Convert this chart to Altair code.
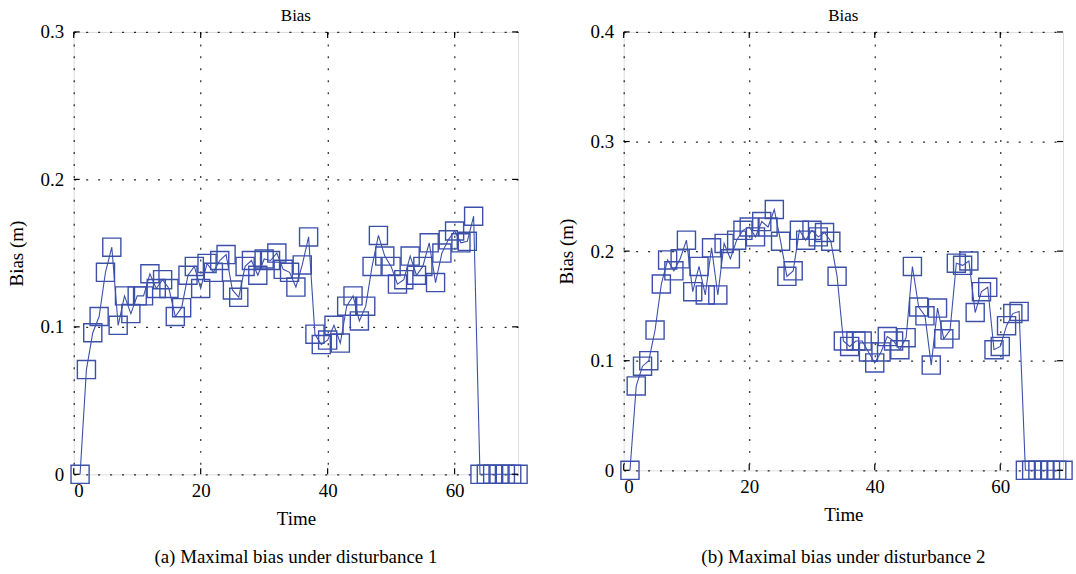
import altair as alt
import pandas as pd

# Time steps and maximal bias (m) for the two disturbance cases
time = list(range(1, 71))

bias_1 = [0.000, 0.071, 0.096, 0.107, 0.137, 0.154, 0.101, 0.121, 0.109, 0.121,
          0.121, 0.136, 0.126, 0.132, 0.126, 0.107, 0.113, 0.135, 0.141, 0.126,
          0.143, 0.137, 0.145, 0.149, 0.125, 0.120, 0.141, 0.145, 0.135, 0.146,
          0.145, 0.150, 0.139, 0.137, 0.127, 0.142, 0.161, 0.095, 0.088, 0.091,
          0.101, 0.089, 0.114, 0.121, 0.104, 0.114, 0.141, 0.162, 0.148, 0.141,
          0.129, 0.132, 0.148, 0.135, 0.141, 0.157, 0.130, 0.150, 0.159, 0.165,
          0.157, 0.158, 0.175, 0.000, 0.000, 0.000, 0.000, 0.000, 0.000, 0.000]

bias_2 = [0.000, 0.077, 0.095, 0.100, 0.128, 0.170, 0.192, 0.182, 0.193, 0.210,
          0.163, 0.186, 0.160, 0.203, 0.160, 0.207, 0.193, 0.210, 0.219, 0.222,
          0.213, 0.227, 0.222, 0.238, 0.209, 0.177, 0.182, 0.219, 0.210, 0.219,
          0.213, 0.217, 0.209, 0.177, 0.118, 0.113, 0.118, 0.118, 0.108, 0.098,
          0.108, 0.122, 0.118, 0.110, 0.121, 0.186, 0.149, 0.141, 0.096, 0.148,
          0.120, 0.128, 0.189, 0.187, 0.191, 0.144, 0.163, 0.167, 0.110, 0.113,
          0.132, 0.143, 0.145, 0.000, 0.000, 0.000, 0.000, 0.000, 0.000, 0.000]

x_ticks = [0, 20, 40, 60]
y_ticks_1 = [0, 0.1, 0.2, 0.3]
y_ticks_2 = [0, 0.1, 0.2, 0.3, 0.4]

caption_1 = "(a)  Maximal bias under disturbance 1"
caption_2 = "(b)  Maximal bias under disturbance 2"

BLUE = "#3c50aa"
FONT = "Liberation Serif"
TICK = 6


def panel(values, y_ticks, w, h, caption, caption_dy):
    df = pd.DataFrame({"time": time, "bias": values})
    xs = alt.Scale(domain=[0, 70], nice=False, zero=False)
    ys = alt.Scale(domain=[0, y_ticks[-1]], nice=False)

    common = dict(grid=True, gridColor="black", gridDash=[2, 10], gridWidth=1.2,
                  gridOpacity=0.85, tickSize=0, domain=False,
                  labelFont=FONT, labelFontSize=19, labelColor="black",
                  titleFont=FONT, titleFontSize=19, titleFontWeight="normal",
                  titleColor="black")
    x = alt.X("time:Q", scale=xs, axis=alt.Axis(
        values=x_ticks, title="Time", labelPadding=7, titlePadding=9,
        format="d", **common))
    y = alt.Y("bias:Q", scale=ys, axis=alt.Axis(
        values=y_ticks, title="Bias (m)", labelPadding=10, titlePadding=14,
        labelExpr="datum.value == 0 ? '0' : format(datum.value, '.1f')", **common))

    base = alt.Chart(df)
    line = base.mark_line(color=BLUE, strokeWidth=1.1).encode(x=x, y=y)
    pts = base.mark_point(shape="square", size=330, filled=False, color=BLUE,
                          strokeWidth=1.4, opacity=1).encode(x=x, y=y)

    # inward tick marks on all four sides of the frame
    xt = alt.Chart(pd.DataFrame({"time": x_ticks}))
    yt = alt.Chart(pd.DataFrame({"bias": y_ticks}))
    rule = dict(color="black", strokeWidth=1.2)
    xb = xt.mark_rule(**rule).encode(x=x, y=alt.value(h), y2=alt.value(h - TICK))
    xtop = xt.mark_rule(**rule).encode(x=x, y=alt.value(0), y2=alt.value(TICK))
    yl = yt.mark_rule(**rule).encode(y=y, x=alt.value(0), x2=alt.value(TICK))
    yr = yt.mark_rule(**rule).encode(y=y, x=alt.value(w), x2=alt.value(w - TICK))

    cap = alt.Chart(pd.DataFrame({"c": [caption]})).mark_text(
        font=FONT, fontSize=19, color="black", baseline="middle", align="center").encode(
        text="c:N", x=alt.value(w / 2), y=alt.value(h + caption_dy))

    return alt.layer(line, pts, xb, xtop, yl, yr, cap).properties(
        width=w, height=h,
        title=alt.TitleParams("Bias", font=FONT, fontSize=17, fontWeight="normal",
                              color="black", anchor="middle", offset=-2, frame="group"))


left = panel(bias_1, y_ticks_1, 446, 444, caption_1, 83)
right = panel(bias_2, y_ticks_2, 441, 440, caption_2, 87)

chart = alt.hconcat(left, right, spacing=25).properties(
    padding={"left": 6, "top": 5, "right": 0, "bottom": 0}
).configure_view(
    stroke="black", strokeWidth=1.3
).configure(background="white")

chart.save("out.html", embed_options={"renderer": "svg", "actions": False})
